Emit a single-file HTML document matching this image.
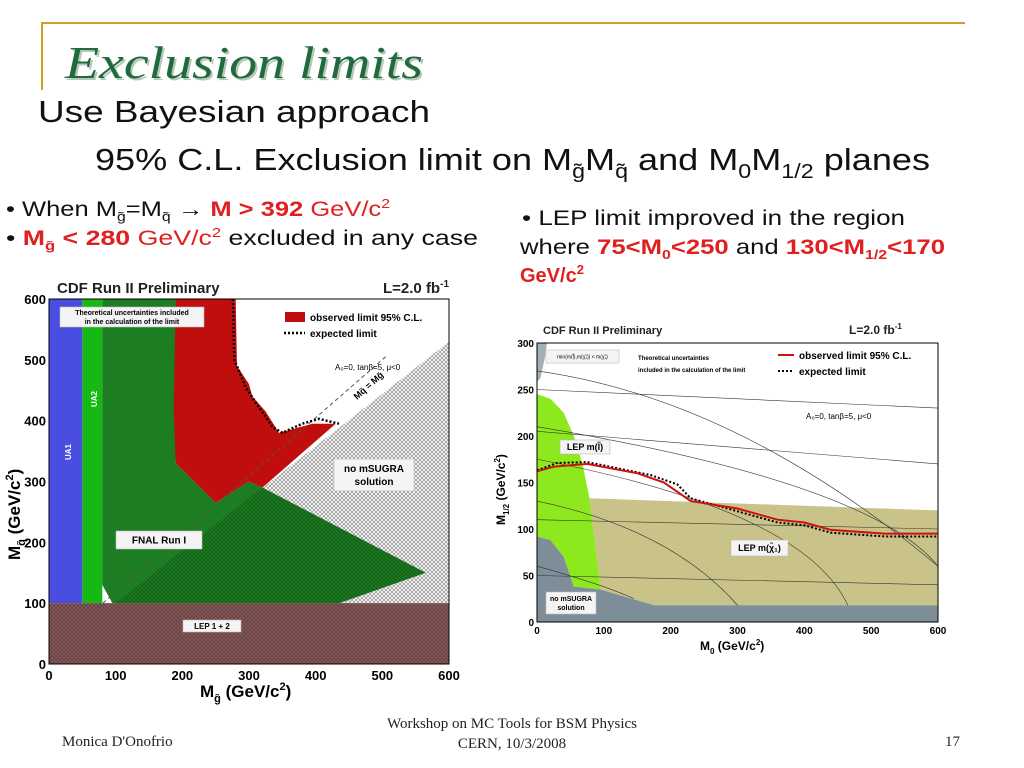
<!DOCTYPE html>
<html><head><meta charset="utf-8"><style>
html,body{margin:0;padding:0;background:#fff;width:1024px;height:768px;overflow:hidden}
svg{display:block}
.s{font-family:"Liberation Sans",sans-serif}
.b{font-weight:bold}
</style></head><body>
<svg id="slide" width="1024" height="768" viewBox="0 0 1024 768" xmlns="http://www.w3.org/2000/svg">
<defs>
<pattern id="hatch" width="4" height="4" patternUnits="userSpaceOnUse">
<rect width="4" height="4" fill="#fff"/><path d="M0,0L4,4M4,0L0,4" stroke="#8a8a8a" stroke-width="0.7"/></pattern>
<pattern id="hatchG" width="4" height="4" patternUnits="userSpaceOnUse">
<rect width="4" height="4" fill="#1d7d22"/><path d="M0,0L4,4M4,0L0,4" stroke="#0f5a14" stroke-width="0.7"/></pattern>
<pattern id="hatchB" width="4" height="4" patternUnits="userSpaceOnUse">
<rect width="4" height="4" fill="#8a5c5c"/><path d="M0,0L4,4M4,0L0,4" stroke="#5e3a3a" stroke-width="0.7"/></pattern>
</defs>
<line x1="42" y1="23" x2="965" y2="23" stroke="#c9a227" stroke-width="2"/>
<line x1="42" y1="22" x2="42" y2="90" stroke="#c9a227" stroke-width="2"/>
<text x="67" y="80" font-family="Liberation Serif,serif" font-style="italic" font-size="46" fill="#b8c8b8" textLength="358" lengthAdjust="spacingAndGlyphs">Exclusion limits</text>
<text x="65" y="78" font-family="Liberation Serif,serif" font-style="italic" font-size="46" fill="#1f6b3f" textLength="358" lengthAdjust="spacingAndGlyphs">Exclusion limits</text>
<text class="s" x="38" y="122" font-size="31" fill="#111" textLength="392" lengthAdjust="spacingAndGlyphs">Use Bayesian approach</text>
<text class="s" x="95" y="170" font-size="31" fill="#111" textLength="835" lengthAdjust="spacingAndGlyphs">95% C.L. Exclusion limit on M<tspan font-size="20" dy="8">g̃</tspan><tspan dy="-8">M</tspan><tspan font-size="20" dy="8">q̃</tspan><tspan dy="-8"> and M</tspan><tspan font-size="20" dy="8">0</tspan><tspan dy="-8">M</tspan><tspan font-size="20" dy="8">1/2</tspan><tspan dy="-8"> planes</tspan></text>
<text class="s" x="6" y="216" font-size="21" fill="#111" textLength="384" lengthAdjust="spacingAndGlyphs">• When M<tspan font-size="13" dy="5">g̃</tspan><tspan dy="-5">=M</tspan><tspan font-size="13" dy="5">q̃</tspan><tspan dy="-5"> → </tspan><tspan fill="#e02020" font-weight="bold">M &gt; 392</tspan><tspan fill="#e02020"> GeV/c</tspan><tspan fill="#e02020" font-size="13" dy="-8">2</tspan></text>
<text class="s" x="6" y="245" font-size="21" fill="#111" textLength="472" lengthAdjust="spacingAndGlyphs">• <tspan fill="#e02020" font-weight="bold">M</tspan><tspan fill="#e02020" font-weight="bold" font-size="13" dy="5">g̃</tspan><tspan fill="#e02020" font-weight="bold" dy="-5"> &lt; 280</tspan><tspan fill="#e02020"> GeV/c</tspan><tspan fill="#e02020" font-size="13" dy="-8">2</tspan><tspan dy="8"> excluded in any case</tspan></text>
<text class="s" x="522" y="225" font-size="21" fill="#111" textLength="383" lengthAdjust="spacingAndGlyphs">• LEP limit improved in the region</text>
<text class="s" x="520" y="254" font-size="21" fill="#111" textLength="425" lengthAdjust="spacingAndGlyphs">where <tspan fill="#e02020" font-weight="bold">75&lt;M</tspan><tspan fill="#e02020" font-weight="bold" font-size="13" dy="5">0</tspan><tspan fill="#e02020" font-weight="bold" dy="-5">&lt;250</tspan> and <tspan fill="#e02020" font-weight="bold">130&lt;M</tspan><tspan fill="#e02020" font-weight="bold" font-size="13" dy="5">1/2</tspan><tspan fill="#e02020" font-weight="bold" dy="-5">&lt;170</tspan></text>
<text class="s b" x="520" y="282" font-size="20" fill="#e02020">GeV/c<tspan font-size="13" dy="-8">2</tspan></text>

<g id="left"></g>
<g id="right"></g>

<text x="62" y="746" font-family="Liberation Serif,serif" font-size="15" fill="#222">Monica D'Onofrio</text>
<text x="512" y="728" text-anchor="middle" font-family="Liberation Serif,serif" font-size="15" fill="#222">Workshop on MC Tools for BSM Physics</text>
<text x="512" y="748" text-anchor="middle" font-family="Liberation Serif,serif" font-size="15" fill="#222">CERN, 10/3/2008</text>
<text x="945" y="746" font-family="Liberation Serif,serif" font-size="15" fill="#222">17</text>
</svg>
<script>
// ---- Left chart data (M_gluino, M_squark) ----
const leftTicks=[0,100,200,300,400,500,600];
const ua1Region=[[0,100],[50,100],[50,600],[0,600]];
const ua2Region=[[50,100],[80,100],[80,600],[50,600]];
const fnalRegion=[[80,600],[190,600],[190,330],[250,265],[300,300],[320,290],[565,150],[435,100],[95,100],[80,130]];
const cdfObserved=[[190,600],[280,600],[282,490],[300,460],[305,440],[325,415],[345,380],[395,395],[430,395],[320,290],[300,300],[250,265],[190,330],[187,420]];
const noSugraLeft=[[100,100],[600,530],[600,100]];
const lepLeft=[[0,0],[600,0],[600,100],[0,100]];
const expectedLeft=[[276,600],[278,500],[295,455],[310,430],[335,390],[350,380],[380,395],[405,403],[435,395]];
const diagLeft=[[65,85],[505,505]];
// ---- Right chart data (M0, M1/2) ----
const rightXTicks=[0,100,200,300,400,500,600];
const rightYTicks=[0,50,100,150,200,250,300];
const greenRight=[[0,245],[20,240],[40,225],[55,200],[68,170],[78,135],[85,95],[92,55],[95,35],[55,38],[40,70],[20,88],[0,92]];
const greyBottom=[[0,0],[0,92],[20,88],[40,70],[55,38],[95,35],[175,18],[600,18],[600,0]];
const greyTop=[[0,258],[5,262],[12,285],[15,300],[0,300]];
const khaki=[[78,133],[600,120],[600,18],[175,18],[95,35],[92,55],[85,95]];
const observedRight=[[0,162],[25,167],[75,170],[150,160],[190,150],[230,130],[300,122],[360,110],[400,107],[440,99],[520,95],[600,95]];
const expectedRight=[[0,163],[30,171],[75,172],[170,158],[210,148],[230,133],[300,119],[360,107],[400,104],[440,96],[520,92],[600,92]];
const isoLines=[[[0,250],[600,230]],[[0,205],[600,170]],[[0,110],[600,100]],[[0,50],[600,40]]];
const isoArcs=[[[0,270],[300,240],[600,60]],[[0,130],[200,100],[300,18]],[[0,60],[100,40],[145,25]],[[0,175],[400,120],[465,18]],[[0,210],[500,150],[600,60]]];

const NS="http://www.w3.org/2000/svg";
function mk(parent,tag,attrs){const e=document.createElementNS(NS,tag);for(const k in attrs)e.setAttribute(k,attrs[k]);parent.appendChild(e);return e;}
function pts(arr,fx,fy){return arr.map(p=>fx(p[0])+","+fy(p[1])).join(" ");}

// Left scales
const lx=v=>49+v*400/600, ly=v=>664-v*365/600;
const L=document.getElementById('left');
let e;
e=mk(L,'text',{x:57,y:293,'font-size':15,'font-weight':'bold','font-family':'Liberation Sans,sans-serif',fill:'#222'});e.textContent='CDF Run II Preliminary';


e=mk(L,'text',{x:383,y:293,'font-size':15,'font-weight':'bold','font-family':'Liberation Sans,sans-serif',fill:'#222'});e.innerHTML='L=2.0 fb<tspan font-size="10" dy="-6">-1</tspan>';


e=mk(L,'rect',{x:lx(0),y:ly(600),width:400,height:365,fill:'#fff'});


const leftPolys=[[noSugraLeft,'url(#hatch)','no-msugra-region'],[ua1Region,'#4a4ee0','ua1-region'],[ua2Region,'#16b816','ua2-region'],[fnalRegion,'#1d7d22','fnal-region'],[cdfObserved,'#c00d0d','observed-limit-region'],[lepLeft,'url(#hatchB)','lep-region']];
leftPolys.forEach(p=>{e=mk(L,'polygon',{points:pts(p[0],lx,ly),fill:p[1]});

});
e=mk(L,'polygon',{points:pts([[100,100],[320,290],[565,150],[435,100]],lx,ly),fill:'url(#hatchG)'});


e=mk(L,'polyline',{points:pts(diagLeft,lx,ly),fill:'none',stroke:'#555','stroke-dasharray':'4,3','stroke-width':1});


e=mk(L,'polyline',{points:pts(expectedLeft,lx,ly),fill:'none',stroke:'#000','stroke-dasharray':'2,2','stroke-width':2.5});


e=mk(L,'rect',{x:lx(0),y:ly(600),width:400,height:365,fill:'none',stroke:'#000','stroke-width':1});


leftTicks.forEach(t=>{
 e=mk(L,'text',{x:lx(t),y:680,'text-anchor':'middle','font-size':13,'font-weight':'bold','font-family':'Liberation Sans,sans-serif'});e.textContent=t;
 
 
 e=mk(L,'text',{x:46,y:ly(t)+5,'text-anchor':'end','font-size':13,'font-weight':'bold','font-family':'Liberation Sans,sans-serif'});e.textContent=t;
 
 
});
function lbl(par,x,y,w,h,txt,fs,name,bold){
 e=mk(par,'rect',{x:x,y:y,width:w,height:h,fill:'#f4f4f4',stroke:'#bbb','stroke-width':0.6});
 
 
 const lines=txt.split('|');
 lines.forEach((s,i)=>{e=mk(par,'text',{x:x+w/2,y:y+h/2+fs*0.35+(i-(lines.length-1)/2)*fs*1.3,'text-anchor':'middle','font-size':fs,'font-weight':bold?'bold':'normal','font-family':'Liberation Sans,sans-serif'});e.textContent=s;
 
 });
}
lbl(L,60,307,144,20,'Theoretical uncertainties included|in the calculation of the limit',7,'left-theory-note',true);
lbl(L,116,531,86,18,'FNAL Run I',10,'fnal-label',true);
lbl(L,334,459,80,32,'no mSUGRA|solution',10,'no-msugra-label',true);
lbl(L,183,620,58,12,'LEP 1 + 2',8,'lep-label',true);
e=mk(L,'text',{x:71,y:460,transform:'rotate(-90 71 460)','font-size':8,'font-weight':'bold','font-family':'Liberation Sans,sans-serif',fill:'#fff'});e.textContent='UA1';

e=mk(L,'text',{x:97,y:407,transform:'rotate(-90 97 407)','font-size':8,'font-weight':'bold','font-family':'Liberation Sans,sans-serif',fill:'#fff'});e.textContent='UA2';

e=mk(L,'rect',{x:285,y:312,width:20,height:10,fill:'#c00d0d'});

e=mk(L,'text',{x:310,y:321,'font-size':10,'font-weight':'bold','font-family':'Liberation Sans,sans-serif'});e.textContent='observed limit 95% C.L.';

e=mk(L,'line',{x1:284,y1:333,x2:305,y2:333,stroke:'#000','stroke-width':2.5,'stroke-dasharray':'2,2'});

e=mk(L,'text',{x:310,y:337,'font-size':10,'font-weight':'bold','font-family':'Liberation Sans,sans-serif'});e.textContent='expected limit';

e=mk(L,'text',{x:335,y:370,'font-size':8,'font-family':'Liberation Sans,sans-serif'});e.textContent='A₀=0, tanβ=5, μ<0';

e=mk(L,'text',{x:357,y:400,transform:'rotate(-42 357 400)','font-size':9,'font-weight':'bold','font-family':'Liberation Sans,sans-serif'});e.textContent='Mq̃ = Mg̃';

e=mk(L,'text',{x:200,y:697,'font-size':17,'font-weight':'bold','font-family':'Liberation Sans,sans-serif'});e.innerHTML='M<tspan font-size="11" dy="5">g̃</tspan><tspan dy="-5"> (GeV/c</tspan><tspan font-size="11" dy="-7">2</tspan><tspan dy="7">)</tspan>';

e=mk(L,'text',{x:20,y:560,transform:'rotate(-90 20 560)','font-size':17,'font-weight':'bold','font-family':'Liberation Sans,sans-serif'});e.innerHTML='M<tspan font-size="11" dy="5">q̃</tspan><tspan dy="-5"> (GeV/c</tspan><tspan font-size="11" dy="-7">2</tspan><tspan dy="7">)</tspan>';


// Right scales
const rx=v=>537+v*401/600, ry=v=>622-v*279/300;
const R=document.getElementById('right');
e=mk(R,'text',{x:543,y:334,'font-size':11,'font-weight':'bold','font-family':'Liberation Sans,sans-serif',fill:'#222'});e.textContent='CDF Run II Preliminary';

e=mk(R,'text',{x:849,y:334,'font-size':12,'font-weight':'bold','font-family':'Liberation Sans,sans-serif',fill:'#222'});e.innerHTML='L=2.0 fb<tspan font-size="8" dy="-5">-1</tspan>';

e=mk(R,'rect',{x:rx(0),y:ry(300),width:401,height:279,fill:'#fff'});

[[khaki,'#c9c38a','lep-chargino-region'],[greenRight,'#8ee81e','lep-slepton-region'],[greyBottom,'#7d8e99','no-msugra-region-right'],[greyTop,'#a4b0b8','top-grey-region']].forEach(p=>{
 e=mk(R,'polygon',{points:pts(p[0],rx,ry),fill:p[1]});
 
 });
isoLines.forEach(l=>{e=mk(R,'polyline',{points:pts(l,rx,ry),fill:'none',stroke:'#333','stroke-width':0.6});
 });
isoArcs.forEach(a=>{e=mk(R,'path',{d:'M'+rx(a[0][0])+','+ry(a[0][1])+' Q'+rx(a[1][0])+','+ry(a[1][1])+' '+rx(a[2][0])+','+ry(a[2][1]),fill:'none',stroke:'#333','stroke-width':0.6});
 });
e=mk(R,'polyline',{points:pts(expectedRight,rx,ry),fill:'none',stroke:'#000','stroke-width':2,'stroke-dasharray':'2,2'});

e=mk(R,'polyline',{points:pts(observedRight,rx,ry),fill:'none',stroke:'#d01010','stroke-width':2});

e=mk(R,'rect',{x:rx(0),y:ry(300),width:401,height:279,fill:'none',stroke:'#000','stroke-width':1});

rightXTicks.forEach(t=>{e=mk(R,'text',{x:rx(t),y:634,'text-anchor':'middle','font-size':10,'font-weight':'bold','font-family':'Liberation Sans,sans-serif'});e.textContent=t;
 });
rightYTicks.forEach(t=>{e=mk(R,'text',{x:534,y:ry(t)+4,'text-anchor':'end','font-size':10,'font-weight':'bold','font-family':'Liberation Sans,sans-serif'});e.textContent=t;
 });
lbl(R,546,350,73,13,'min(m(l̃),m(χ̃₁)) < m(χ̃₁)',5,'right-min-note',false);
e=mk(R,'text',{x:638,y:360,'font-size':6,'font-weight':'bold','font-family':'Liberation Sans,sans-serif'});e.textContent='Theoretical uncertainties';

e=mk(R,'text',{x:638,y:372,'font-size':6,'font-weight':'bold','font-family':'Liberation Sans,sans-serif'});e.textContent='included in the calculation of the limit';

e=mk(R,'line',{x1:778,y1:355,x2:794,y2:355,stroke:'#d01010','stroke-width':2});

e=mk(R,'text',{x:799,y:359,'font-size':10,'font-weight':'bold','font-family':'Liberation Sans,sans-serif'});e.textContent='observed limit 95% C.L.';

e=mk(R,'line',{x1:778,y1:371,x2:794,y2:371,stroke:'#000','stroke-width':2,'stroke-dasharray':'2,2'});

e=mk(R,'text',{x:799,y:375,'font-size':10,'font-weight':'bold','font-family':'Liberation Sans,sans-serif'});e.textContent='expected limit';

e=mk(R,'text',{x:806,y:419,'font-size':8,'font-family':'Liberation Sans,sans-serif'});e.textContent='A₀=0, tanβ=5, μ<0';

lbl(R,560,440,50,14,'LEP m(l̃)',9,'lep-slepton-label',true);
lbl(R,731,540,57,16,'LEP m(χ̃₁)',9,'lep-chargino-label',true);
lbl(R,546,592,50,22,'no mSUGRA|solution',7,'no-msugra-label-right',true);
e=mk(R,'text',{x:700,y:650,'font-size':12,'font-weight':'bold','font-family':'Liberation Sans,sans-serif'});e.innerHTML='M<tspan font-size="8" dy="4">0</tspan><tspan dy="-4"> (GeV/c</tspan><tspan font-size="8" dy="-5">2</tspan><tspan dy="5">)</tspan>';

e=mk(R,'text',{x:505,y:525,transform:'rotate(-90 505 525)','font-size':12,'font-weight':'bold','font-family':'Liberation Sans,sans-serif'});e.innerHTML='M<tspan font-size="8" dy="4">1/2</tspan><tspan dy="-4"> (GeV/c</tspan><tspan font-size="8" dy="-5">2</tspan><tspan dy="5">)</tspan>';

</script>
</body></html>
